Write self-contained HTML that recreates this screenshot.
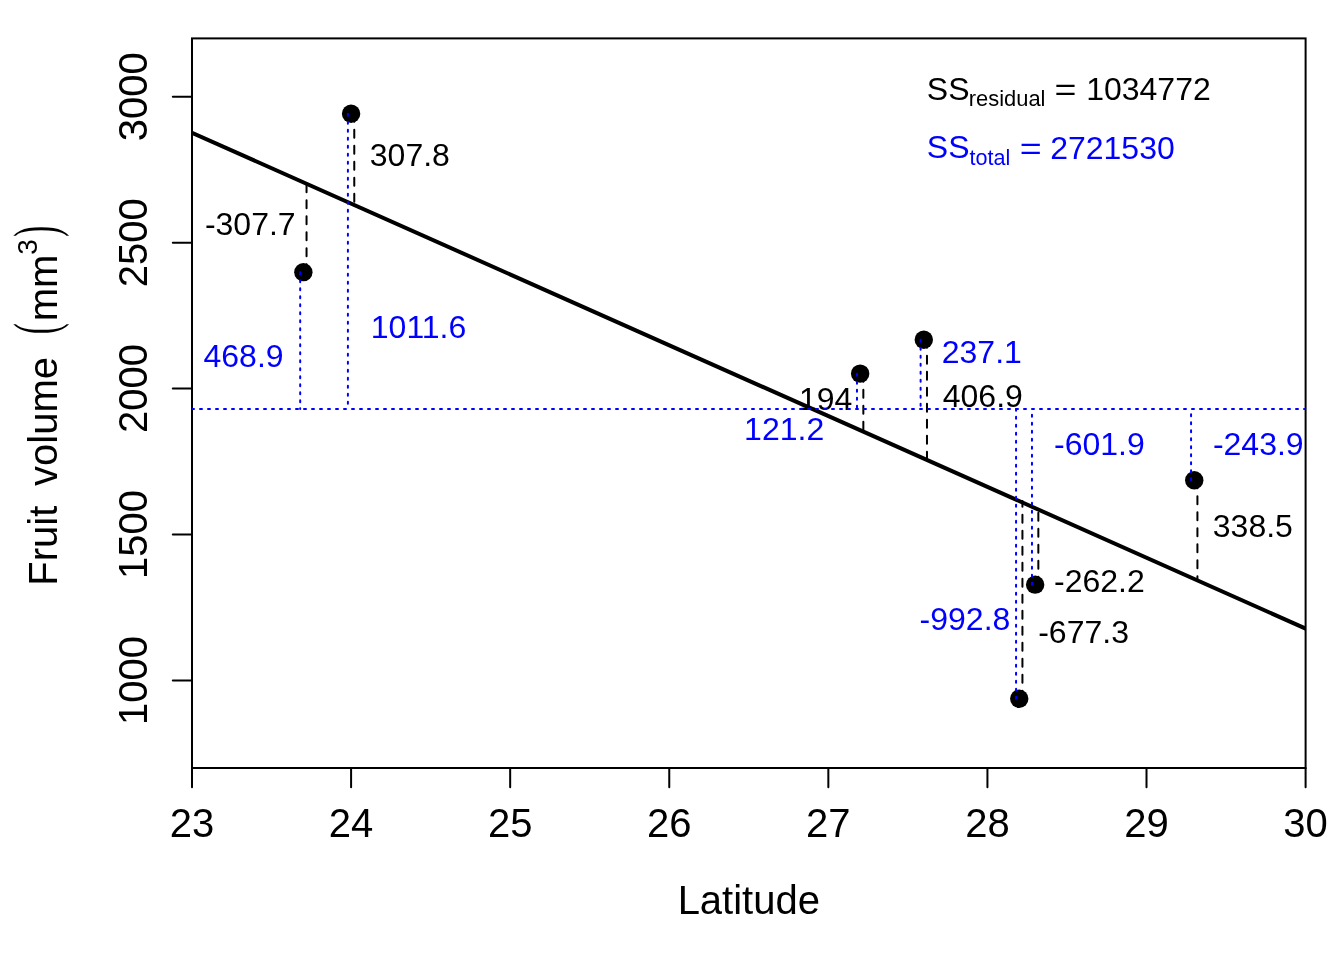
<!DOCTYPE html>
<html><head><meta charset="utf-8"><title>Fruit volume vs Latitude</title>
<style>html,body{margin:0;padding:0;background:#fff;}svg{display:block;will-change:transform;}</style>
</head><body>
<svg width="1344" height="960" viewBox="0 0 1344 960"><defs><clipPath id="pr"><rect x="192.0" y="38.4" width="1113.6" height="729.6"/></clipPath></defs><rect width="1344" height="960" fill="#fff"/><circle cx="303.36" cy="272.16" r="9.2" fill="#000"/><circle cx="351.09" cy="113.77" r="9.2" fill="#000"/><circle cx="860.16" cy="373.63" r="9.2" fill="#000"/><circle cx="923.79" cy="339.80" r="9.2" fill="#000"/><circle cx="1019.25" cy="698.74" r="9.2" fill="#000"/><circle cx="1035.15" cy="584.66" r="9.2" fill="#000"/><circle cx="1194.24" cy="480.18" r="9.2" fill="#000"/><rect x="192.0" y="38.4" width="1113.60" height="729.60" fill="none" stroke="#000" stroke-width="2"/><path d="M192.0,768.0H1305.6" stroke="#000" stroke-width="2" fill="none"/><path d="M192.00,768.0v19.2M351.09,768.0v19.2M510.17,768.0v19.2M669.26,768.0v19.2M828.34,768.0v19.2M987.43,768.0v19.2M1146.51,768.0v19.2M1305.60,768.0v19.2" stroke="#000" stroke-width="2" stroke-linecap="round" fill="none"/><path d="M192.0,680.45h-19.2M192.0,534.53h-19.2M192.0,388.61h-19.2M192.0,242.69h-19.2M192.0,96.77h-19.2" stroke="#000" stroke-width="2" stroke-linecap="round" fill="none"/><g clip-path="url(#pr)"><path d="M192.0,132.78L1305.6,628.56" stroke="#000" stroke-width="4" stroke-linecap="round" fill="none"/></g><g><text transform="translate(204.90 234.85)" font-size="32" font-family='"Liberation Sans", Arial, sans-serif' fill="#000">-307.7</text><text transform="translate(369.80 165.95)" font-size="32" font-family='"Liberation Sans", Arial, sans-serif' fill="#000">307.8</text><text transform="translate(798.90 409.75)" font-size="32" font-family='"Liberation Sans", Arial, sans-serif' fill="#000">194</text><text transform="translate(942.75 407.05)" font-size="32" font-family='"Liberation Sans", Arial, sans-serif' fill="#000">406.9</text><text transform="translate(1038.20 643.00)" font-size="32" font-family='"Liberation Sans", Arial, sans-serif' fill="#000">-677.3</text><text transform="translate(1054.00 592.00)" font-size="32" font-family='"Liberation Sans", Arial, sans-serif' fill="#000">-262.2</text><text transform="translate(1212.80 536.85)" font-size="32" font-family='"Liberation Sans", Arial, sans-serif' fill="#000">338.5</text><text transform="translate(203.50 366.95)" font-size="32" font-family='"Liberation Sans", Arial, sans-serif' fill="#0000ff">468.9</text><text transform="translate(370.80 338.05)" font-size="32" font-family='"Liberation Sans", Arial, sans-serif' fill="#0000ff">1011.6</text><text transform="translate(744.10 440.05)" font-size="32" font-family='"Liberation Sans", Arial, sans-serif' fill="#0000ff">121.2</text><text transform="translate(941.75 363.18)" font-size="32" font-family='"Liberation Sans", Arial, sans-serif' fill="#0000ff">237.1</text><text transform="translate(919.60 630.17)" font-size="32" font-family='"Liberation Sans", Arial, sans-serif' fill="#0000ff">-992.8</text><text transform="translate(1054.00 454.85)" font-size="32" font-family='"Liberation Sans", Arial, sans-serif' fill="#0000ff">-601.9</text><g clip-path="url(#pr)"><text transform="translate(1212.90 455.00)" font-size="32" font-family='"Liberation Sans", Arial, sans-serif' fill="#0000ff">-243.9</text></g><text transform="translate(926.80 99.60)" font-size="32" font-family='"Liberation Sans", Arial, sans-serif' fill="#000">SS</text><text transform="translate(968.80 105.50)" font-size="21.9" font-family='"Liberation Sans", Arial, sans-serif' fill="#000">residual</text><text transform="translate(1054.62 100.05) scale(1.175 1)" font-size="32" font-family='"Liberation Sans", Arial, sans-serif' fill="#000">=</text><text transform="translate(1086.15 99.85)" font-size="32" font-family='"Liberation Sans", Arial, sans-serif' fill="#000">1034772</text><text transform="translate(926.80 158.45)" font-size="32" font-family='"Liberation Sans", Arial, sans-serif' fill="#0000ff">SS</text><text transform="translate(969.45 164.60)" font-size="21.6" font-family='"Liberation Sans", Arial, sans-serif' fill="#0000ff">total</text><text transform="translate(1019.75 159.00) scale(1.175 1)" font-size="32" font-family='"Liberation Sans", Arial, sans-serif' fill="#0000ff">=</text><text transform="translate(1050.15 158.85)" font-size="32" font-family='"Liberation Sans", Arial, sans-serif' fill="#0000ff">2721530</text><text transform="translate(192.00 837.17)" font-size="40" font-family='"Liberation Sans", Arial, sans-serif' text-anchor="middle" fill="#000">23</text><text transform="translate(351.09 837.17)" font-size="40" font-family='"Liberation Sans", Arial, sans-serif' text-anchor="middle" fill="#000">24</text><text transform="translate(510.17 837.17)" font-size="40" font-family='"Liberation Sans", Arial, sans-serif' text-anchor="middle" fill="#000">25</text><text transform="translate(669.26 837.17)" font-size="40" font-family='"Liberation Sans", Arial, sans-serif' text-anchor="middle" fill="#000">26</text><text transform="translate(828.34 837.17)" font-size="40" font-family='"Liberation Sans", Arial, sans-serif' text-anchor="middle" fill="#000">27</text><text transform="translate(987.43 837.17)" font-size="40" font-family='"Liberation Sans", Arial, sans-serif' text-anchor="middle" fill="#000">28</text><text transform="translate(1146.51 837.17)" font-size="40" font-family='"Liberation Sans", Arial, sans-serif' text-anchor="middle" fill="#000">29</text><text transform="translate(1305.60 837.17)" font-size="40" font-family='"Liberation Sans", Arial, sans-serif' text-anchor="middle" fill="#000">30</text><text transform="translate(146.68 680.45) rotate(-90)" font-size="40" font-family='"Liberation Sans", Arial, sans-serif' text-anchor="middle" fill="#000">1000</text><text transform="translate(146.68 534.53) rotate(-90)" font-size="40" font-family='"Liberation Sans", Arial, sans-serif' text-anchor="middle" fill="#000">1500</text><text transform="translate(146.68 388.61) rotate(-90)" font-size="40" font-family='"Liberation Sans", Arial, sans-serif' text-anchor="middle" fill="#000">2000</text><text transform="translate(146.68 242.69) rotate(-90)" font-size="40" font-family='"Liberation Sans", Arial, sans-serif' text-anchor="middle" fill="#000">2500</text><text transform="translate(146.68 96.77) rotate(-90)" font-size="40" font-family='"Liberation Sans", Arial, sans-serif' text-anchor="middle" fill="#000">3000</text><text transform="translate(748.80 914.20)" font-size="40" font-family='"Liberation Sans", Arial, sans-serif' text-anchor="middle" fill="#000">Latitude</text><text transform="translate(57.00 585.65) rotate(-90)" font-size="40" font-family='"Liberation Sans", Arial, sans-serif' fill="#000">Fruit</text><text transform="translate(57.00 486.00) rotate(-90)" font-size="40" font-family='"Liberation Sans", Arial, sans-serif' fill="#000">volume</text><text transform="translate(57.10 321.30) rotate(-90)" font-size="40" font-family='"Liberation Sans", Arial, sans-serif' fill="#000">mm</text><text transform="translate(37.15 254.82) rotate(-90)" font-size="28" font-family='"Liberation Sans", Arial, sans-serif' fill="#000">3</text><text transform="translate(55.75 334.35) rotate(-90) scale(0.53 1.0)" font-size="62" font-family='"Liberation Serif", serif' fill="#000">(</text><text transform="translate(55.50 236.75) rotate(-90) scale(0.53 1.0)" font-size="62" font-family='"Liberation Serif", serif' fill="#000">)</text></g><g stroke="#000" stroke-width="2" stroke-dasharray="8 8" stroke-linecap="round" fill="none"><path d="M306.54,272.16V182.36"/><path d="M354.27,113.77V203.60"/><path d="M863.34,373.63V430.24"/><path d="M926.98,339.80V458.55"/><path d="M1022.43,698.74V501.07"/><path d="M1038.34,584.66V508.14"/><path d="M1197.42,480.18V578.97"/></g><g stroke="#0000ff" stroke-width="2" stroke-dasharray="2 6" stroke-linecap="round" fill="none"><path d="M300.18,272.16V409.00"/><path d="M347.90,113.77V409.00"/><path d="M856.98,373.63V409.00"/><path d="M920.61,339.80V409.00"/><path d="M1016.06,698.74V409.00"/><path d="M1031.97,584.66V409.00"/><path d="M1191.06,480.18V409.00"/></g><g clip-path="url(#pr)"><path d="M192.0,409.00H1305.6" stroke="#0000ff" stroke-width="2" stroke-dasharray="2 6" stroke-linecap="round" fill="none"/></g></svg>
</body></html>
